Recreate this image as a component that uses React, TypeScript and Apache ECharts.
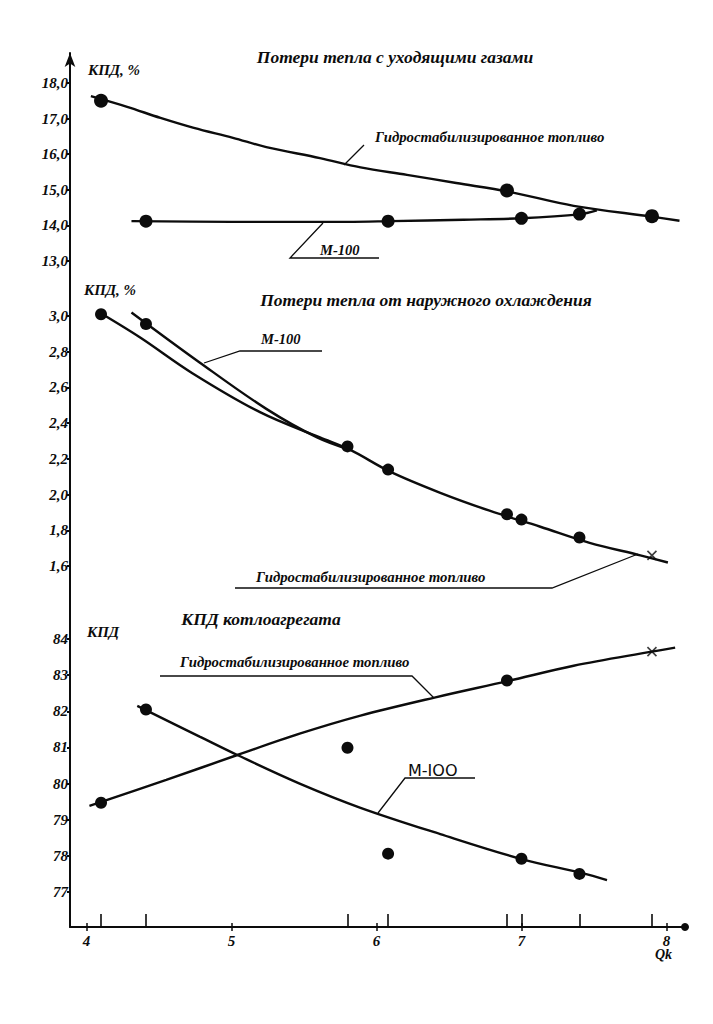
import React, { useEffect, useRef } from "react";
import * as echarts from "echarts";

// ---------- data ----------
const qkMin = 3.886;
const qkMax = 8.128;
const qkTicks = [4, 5, 6, 7, 8];
const qkMeasured = [4.1, 4.41, 5.8, 6.08, 6.9, 7.0, 7.4, 7.9];

// Panel 1: Потери тепла с уходящими газами
const gasTicks = [13, 14, 15, 16, 17, 18];
const gasHydroCurveX = [4.03, 4.28, 4.51, 4.74, 5.01, 5.24, 5.61, 5.89, 6.21, 6.55, 6.91, 7.36, 7.91, 8.09];
const gasHydroCurveY = [17.63, 17.33, 17.02, 16.74, 16.46, 16.2, 15.89, 15.63, 15.42, 15.19, 14.95, 14.55, 14.24, 14.13];
const gasM100CurveX = [4.31, 5.0, 5.8, 6.1, 6.6, 7.0, 7.4, 7.52];
const gasM100CurveY = [14.12, 14.1, 14.1, 14.12, 14.16, 14.2, 14.31, 14.42];
const gasHydroPtsX = [4.1, 6.9, 7.9];
const gasHydroPtsY = [17.5, 14.98, 14.26];
const gasM100PtsX = [4.41, 6.08, 7.0, 7.4];
const gasM100PtsY = [14.12, 14.12, 14.2, 14.32];

// Panel 2: Потери тепла от наружного охлаждения
const coolTicks = [1.6, 1.8, 2.0, 2.2, 2.4, 2.6, 2.8, 3.0];
const coolHydroCurveX = [4.09, 4.37, 4.73, 5.2, 5.61, 5.82, 6.09, 6.44, 6.78, 7.13, 7.47, 7.82, 8.01];
const coolHydroCurveY = [3.02, 2.88, 2.68, 2.46, 2.32, 2.25, 2.13, 2.01, 1.91, 1.82, 1.73, 1.66, 1.62];
const coolM100CurveX = [4.31, 4.78, 5.24, 5.59, 5.82];
const coolM100CurveY = [3.02, 2.74, 2.48, 2.32, 2.25];
const coolHydroPtsX = [4.1, 6.9];
const coolHydroPtsY = [3.01, 1.89];
const coolHydroCrossX = [7.9];
const coolHydroCrossY = [1.66];
const coolM100PtsX = [4.41, 5.8, 6.08, 7.0, 7.4];
const coolM100PtsY = [2.955, 2.27, 2.14, 1.86, 1.76];

// Panel 3: КПД котлоагрегата
const effTicks = [77, 78, 79, 80, 81, 82, 83, 84];
const effHydroCurveX = [4.02, 4.55, 5.04, 5.47, 5.89, 6.4, 6.91, 7.36, 7.9, 8.06];
const effHydroCurveY = [79.38, 80.1, 80.79, 81.38, 81.88, 82.38, 82.84, 83.26, 83.65, 83.76];
const effM100CurveX = [4.35, 4.78, 5.04, 5.47, 5.89, 6.44, 7.0, 7.42, 7.59];
const effM100CurveY = [82.15, 81.3, 80.79, 80.0, 79.33, 78.6, 77.91, 77.52, 77.33];
const effHydroPtsX = [4.1, 6.9];
const effHydroPtsY = [79.47, 82.85];
const effHydroCrossX = [7.9];
const effHydroCrossY = [83.65];
const effM100PtsX = [4.41, 5.8, 6.08, 7.0, 7.4];
const effM100PtsY = [82.05, 80.99, 78.06, 77.92, 77.5];

// ---------- helpers ----------
const zip = (xs: number[], ys: number[]) => xs.map((x, i) => [x, ys[i]]);
const INK = "#0c0c0c";
const SERIF = '"Liberation Serif", "Times New Roman", serif';
const fontBI = (px: number) => `italic bold ${px}px ${SERIF}`;

export default function App() {
  const ref = useRef<HTMLDivElement>(null);

  useEffect(() => {
    if (!ref.current) return;
    const chart = echarts.init(ref.current, null, { renderer: "svg" });

    const gridL = 70;
    const gridW = 615;
    const grids = [
      { left: gridL, width: gridW, top: 68.76, height: 206.48 },
      { left: gridL, width: gridW, top: 298.14, height: 285.76 },
      { left: gridL, width: gridW, top: 620.93, height: 278.27 },
      { left: gridL, width: gridW, top: 53, height: 874 },
    ];

    const hiddenX = (g: number) => ({
      type: "value",
      gridIndex: g,
      min: qkMin,
      max: qkMax,
      show: false,
    });

    const labelStyle = {
      color: INK,
      fontFamily: SERIF,
      fontStyle: "italic",
      fontWeight: "bold",
      fontSize: 15,
    };

    const panelY = (g: number, min: number, max: number, ticks: number[], fmt: (v: number) => string) => ({
      type: "value",
      gridIndex: g,
      min,
      max,
      splitLine: { show: false },
      axisLine: { show: false },
      axisTick: { show: true, length: 3, customValues: ticks, lineStyle: { color: INK, width: 2 } },
      axisLabel: { ...labelStyle, margin: 2, customValues: ticks, formatter: fmt },
    });

    const comma1 = (v: number) => v.toFixed(1).replace(".", ",");

    const curve = (xi: number, data: number[][]) => ({
      type: "line",
      xAxisIndex: xi,
      yAxisIndex: xi,
      data,
      smooth: 0.35,
      showSymbol: false,
      lineStyle: { color: INK, width: 2.4 },
      z: 2,
    });
    const dots = (xi: number, data: number[][], size: number) => ({
      type: "scatter",
      xAxisIndex: xi,
      yAxisIndex: xi,
      data,
      symbol: "circle",
      symbolSize: size,
      itemStyle: { color: INK, opacity: 1 },
      z: 3,
    });
    const cross = (xi: number, data: number[][]) => ({
      type: "scatter",
      xAxisIndex: xi,
      yAxisIndex: xi,
      data,
      symbol: "path://M0 0L10 10M10 0L0 10",
      symbolSize: 9,
      itemStyle: { color: "none", borderColor: INK, borderWidth: 1.6 },
      z: 3,
    });

    const txt = (text: string, x: number, y: number, font: string, align = "left") => ({
      type: "text",
      x,
      y,
      style: { text, font, fill: INK, textAlign: align, textVerticalAlign: "middle" },
    });
    const lead = (points: number[][]) => ({
      type: "polyline",
      shape: { points },
      style: { stroke: INK, lineWidth: 1.3, fill: null },
    });

    const bottomX = (extra: any) => ({
      type: "value",
      gridIndex: 3,
      position: "bottom",
      offset: 0,
      min: qkMin,
      max: qkMax,
      splitLine: { show: false },
      ...extra,
    });

    const option: any = {
      animation: false,
      backgroundColor: "#ffffff",
      grid: grids,
      xAxis: [
        hiddenX(0),
        hiddenX(1),
        hiddenX(2),
        bottomX({
          axisLine: {
            show: true,
            symbol: ["none", "circle"],
            symbolSize: [8, 8],
            lineStyle: { color: INK, width: 2 },
          },
          axisTick: { show: true, length: 4, customValues: qkTicks, lineStyle: { color: INK, width: 1.5 } },
          axisLabel: { ...labelStyle, margin: 6, customValues: qkTicks, formatter: (v: number) => String(v) },
        }),
        bottomX({
          axisLine: { show: false },
          axisTick: { show: true, inside: true, length: 13, customValues: qkMeasured, lineStyle: { color: INK, width: 1.6 } },
          axisLabel: { show: false },
        }),
        bottomX({
          axisLine: { show: false },
          axisTick: { show: true, inside: true, length: 4, customValues: qkTicks, lineStyle: { color: INK, width: 1.5 } },
          axisLabel: { show: false },
        }),
      ],
      yAxis: [
        panelY(0, 12.6, 18.4, gasTicks, comma1),
        panelY(1, 1.5, 3.1, coolTicks, comma1),
        panelY(2, 76.8, 84.5, effTicks, (v: number) => String(Math.round(v))),
        {
          type: "value",
          gridIndex: 3,
          min: 0,
          max: 1,
          splitLine: { show: false },
          axisLine: {
            show: true,
            symbol: ["none", "arrow"],
            symbolSize: [8, 14],
            lineStyle: { color: INK, width: 2 },
          },
          axisTick: { show: false },
          axisLabel: { show: false },
        },
      ],
      series: [
        curve(0, zip(gasHydroCurveX, gasHydroCurveY)),
        curve(0, zip(gasM100CurveX, gasM100CurveY)),
        dots(0, zip(gasHydroPtsX, gasHydroPtsY), 14),
        dots(0, zip(gasM100PtsX, gasM100PtsY), 13),

        curve(1, zip(coolHydroCurveX, coolHydroCurveY)),
        curve(1, zip(coolM100CurveX, coolM100CurveY)),
        dots(1, zip(coolHydroPtsX, coolHydroPtsY), 12),
        cross(1, zip(coolHydroCrossX, coolHydroCrossY)),
        dots(1, zip(coolM100PtsX, coolM100PtsY), 12),

        curve(2, zip(effHydroCurveX, effHydroCurveY)),
        curve(2, zip(effM100CurveX, effM100CurveY)),
        dots(2, zip(effHydroPtsX, effHydroPtsY), 12),
        cross(2, zip(effHydroCrossX, effHydroCrossY)),
        dots(2, zip(effM100PtsX, effM100PtsY), 12),
      ],
      graphic: [
        // panel 1
        txt("Потери тепла с уходящими газами", 395, 57, fontBI(17.5), "center"),
        txt("КПД, %", 88, 70, fontBI(15)),
        txt("Гидростабилизированное топливо", 375, 137, fontBI(14.8)),
        lead([[364, 145], [344, 165]]),
        txt("M-100", 320, 250, fontBI(14.5)),
        lead([[323, 223], [290, 258], [379, 258]]),
        // panel 2
        txt("Потери тепла от наружного охлаждения", 426, 300, fontBI(17.5), "center"),
        txt("КПД, %", 84, 290, fontBI(15)),
        txt("M-100", 261, 339, fontBI(14.5)),
        lead([[204, 363], [240, 351], [322, 351]]),
        txt("Гидростабилизированное топливо", 256, 577, fontBI(14.8)),
        lead([[235, 588], [552, 588], [638, 554]]),
        // panel 3
        txt("КПД котлоагрегата", 261, 619, fontBI(17.5), "center"),
        txt("КПД", 87, 632, fontBI(15)),
        txt("Гидростабилизированное топливо", 180, 662, fontBI(14.8)),
        lead([[160, 676], [412, 676], [434, 698]]),
        txt("M-IOO", 408, 770, `16px "DejaVu Sans", sans-serif`),
        lead([[378, 813], [405, 778], [475, 778]]),
        // x axis name
        txt("Qk", 655, 954, fontBI(14)),
      ],
    };

    chart.setOption(option);
    return () => chart.dispose();
  }, []);

  return (
    <div
      ref={ref}
      style={{ position: "absolute", left: 0, top: 0, width: 713, height: 1024, background: "#fff" }}
    />
  );
}
